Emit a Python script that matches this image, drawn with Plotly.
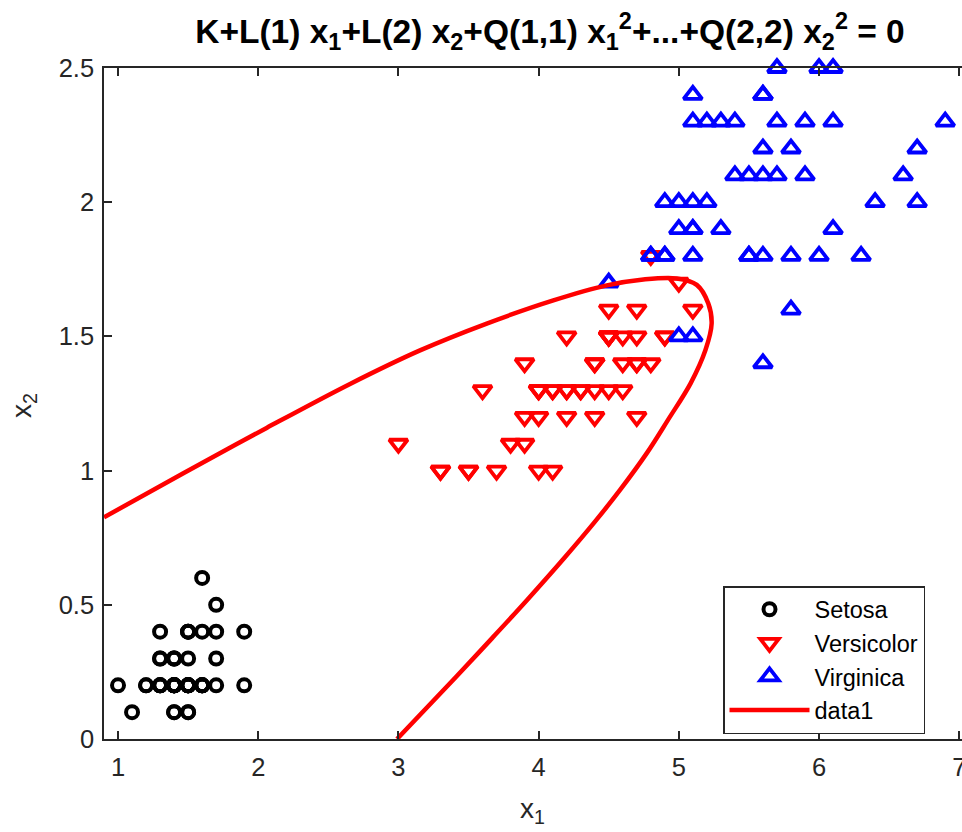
import plotly.graph_objects as go

# Fisher iris: petal length (x1) and petal width (x2)
setosa_x1 = [1.4,1.4,1.3,1.5,1.4,1.7,1.4,1.5,1.4,1.5,1.5,1.6,1.4,1.1,1.2,1.5,1.3,1.4,1.7,1.5,
             1.7,1.5,1.0,1.7,1.9,1.6,1.6,1.5,1.4,1.6,1.6,1.5,1.5,1.4,1.5,1.2,1.3,1.4,1.3,1.5,
             1.3,1.3,1.3,1.6,1.9,1.4,1.6,1.4,1.5,1.4]
setosa_x2 = [0.2,0.2,0.2,0.2,0.2,0.4,0.3,0.2,0.2,0.1,0.2,0.2,0.1,0.1,0.2,0.4,0.4,0.3,0.3,0.3,
             0.2,0.4,0.2,0.5,0.2,0.2,0.4,0.2,0.2,0.2,0.2,0.4,0.1,0.2,0.2,0.2,0.2,0.1,0.2,0.2,
             0.3,0.3,0.2,0.6,0.4,0.3,0.2,0.2,0.2,0.2]
versicolor_x1 = [4.7,4.5,4.9,4.0,4.6,4.5,4.7,3.3,4.6,3.9,3.5,4.2,4.0,4.7,3.6,4.4,4.5,4.1,4.5,3.9,
                 4.8,4.0,4.9,4.7,4.3,4.4,4.8,5.0,4.5,3.5,3.8,3.7,3.9,5.1,4.5,4.5,4.7,4.4,4.1,4.0,
                 4.4,4.6,4.0,3.3,4.2,4.2,4.2,4.3,3.0,4.1]
versicolor_x2 = [1.4,1.5,1.5,1.3,1.5,1.3,1.6,1.0,1.3,1.4,1.0,1.5,1.0,1.4,1.3,1.4,1.5,1.0,1.5,1.1,
                 1.8,1.3,1.5,1.2,1.3,1.4,1.4,1.7,1.5,1.0,1.1,1.0,1.2,1.6,1.5,1.6,1.5,1.3,1.3,1.3,
                 1.2,1.4,1.2,1.0,1.3,1.2,1.3,1.3,1.1,1.3]
virginica_x1 = [6.0,5.1,5.9,5.6,5.8,6.6,4.5,6.3,5.8,6.1,5.1,5.3,5.5,5.0,5.1,5.3,5.5,6.7,6.9,5.0,
                5.7,4.9,6.7,4.9,5.7,6.0,4.8,4.9,5.6,5.8,6.1,6.4,5.6,5.1,5.6,6.1,5.6,5.5,4.8,5.4,
                5.6,5.1,5.1,5.9,5.7,5.2,5.0,5.2,5.4,5.1]
virginica_x2 = [2.5,1.9,2.1,1.8,2.2,2.1,1.7,1.8,1.8,2.5,2.0,1.9,2.1,2.0,2.4,2.3,1.8,2.2,2.3,1.5,
                2.3,2.0,2.0,1.8,2.1,1.8,1.8,1.8,2.1,1.6,1.9,2.0,2.2,1.5,1.4,2.3,2.4,1.8,1.8,2.1,
                2.4,2.3,1.9,2.3,2.5,2.3,1.9,2.0,2.3,1.8]

# Quadratic boundary K+L1*x1+L2*x2+Q11*x1^2+...+Q22*x2^2 = 0
curve_x = [0.90, 1.466, 2.06, 2.655, 3.154, 3.63, 4.105, 4.486, 4.747, 4.985, 5.128, 5.21,
           5.234, 5.19, 5.085, 4.923, 4.773, 4.581, 4.399, 4.189, 3.918, 3.667, 3.412, 2.99]
curve_y = [0.826, 0.990, 1.159, 1.323, 1.448, 1.548, 1.634, 1.690, 1.712, 1.716, 1.692, 1.623,
           1.548, 1.449, 1.326, 1.189, 1.066, 0.928, 0.808, 0.678, 0.518, 0.375, 0.232, 0.0]

x_ticks = [1, 2, 3, 4, 5, 6, 7]
y_ticks = [0, 0.5, 1, 1.5, 2, 2.5]
y_tick_text = ["0", "0.5", "1", "1.5", "2", "2.5"]

FONT = "Liberation Sans, Arial, sans-serif"
AX = "#262626"
L, T, B = 104, 68, 93
PW = 962 - L
PH = 832 - T - B

fig = go.Figure()
fig.add_trace(go.Scatter(x=setosa_x1, y=setosa_x2, mode="markers", name="Setosa",
                         cliponaxis=False,
                         marker=dict(symbol="circle-open", size=12, color="#000000",
                                     line=dict(width=4, color="#000000"))))
fig.add_trace(go.Scatter(x=versicolor_x1, y=versicolor_x2, mode="markers", name="Versicolor",
                         cliponaxis=False,
                         marker=dict(symbol="triangle-down-open", size=16, color="#FF0000",
                                     line=dict(width=3.8, color="#FF0000"))))
fig.add_trace(go.Scatter(x=virginica_x1, y=virginica_x2, mode="markers", name="Virginica",
                         cliponaxis=False,
                         marker=dict(symbol="triangle-up-open", size=16, color="#0000FF",
                                     line=dict(width=3.8, color="#0000FF"))))
fig.add_trace(go.Scatter(x=curve_x, y=curve_y, mode="lines", name="data1",
                         line=dict(color="#FF0000", width=4.5, shape="spline", smoothing=1.0)))

fig.update_layout(
    width=962, height=832,
    margin=dict(l=L, r=0, t=T, b=B, autoexpand=False),
    paper_bgcolor="white", plot_bgcolor="white",
    font=dict(family=FONT, color=AX, size=25),
    title=dict(text="K+L(1) x<sub>1</sub>+L(2) x<sub>2</sub>+Q(1,1) x<sub>1</sub><sup>2</sup>+...+Q(2,2) x<sub>2</sub><sup>2</sup> = 0",
               x=(550 - L) / PW, xref="paper", xanchor="center",
               y=1 - 31 / 832, yref="container", yanchor="middle",
               font=dict(family=FONT, size=33.5, color="#000000", weight="bold")),
    showlegend=True,
    legend=dict(x=(723 - L) / PW, y=(739 - 586) / PH, xanchor="left", yanchor="top",
                bgcolor="white", bordercolor=AX, borderwidth=1.5,
                font=dict(family=FONT, size=23.5, color="#000000"),
                itemwidth=80, tracegroupgap=0),
)
fig.update_xaxes(range=[0.9, 0.9 + PW / 140.2], tickvals=x_ticks,
                 ticktext=[str(v) for v in x_ticks],
                 ticks="inside", ticklen=8, tickwidth=1.5, tickcolor=AX,
                 showline=True, linecolor=AX, linewidth=1.5, mirror="ticks",
                 showgrid=False, zeroline=False, ticklabelstandoff=5,
                 ticklabeloverflow="allow",
                 tickfont=dict(family=FONT, size=25.5, color=AX))
fig.update_yaxes(range=[0, 2.5], tickvals=y_ticks, ticktext=y_tick_text,
                 ticks="inside", ticklen=8, tickwidth=1.5, tickcolor=AX,
                 showline=True, linecolor=AX, linewidth=1.5, mirror=False,
                 showgrid=False, zeroline=False, ticklabelstandoff=3,
                 ticklabeloverflow="allow",
                 tickfont=dict(family=FONT, size=25.5, color=AX))

fig.add_annotation(text="x<sub>1</sub>", xref="paper", yref="paper",
                   x=(532 - L) / PW, y=(739 - 810) / PH, showarrow=False,
                   xanchor="center", yanchor="middle",
                   font=dict(family=FONT, size=28, color=AX))
fig.add_annotation(text="x<sub>2</sub>", xref="paper", yref="paper",
                   x=(23 - L) / PW, y=(739 - 406) / PH, showarrow=False,
                   xanchor="center", yanchor="middle", textangle=-90,
                   font=dict(family=FONT, size=28, color=AX))

fig.write_html("out.html", config={"displayModeBar": False},
               post_script="document.body.style.margin='0';document.body.style.overflow='hidden';")
